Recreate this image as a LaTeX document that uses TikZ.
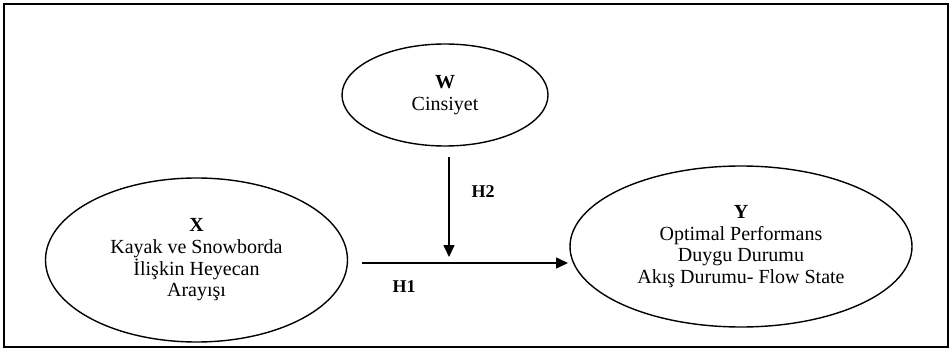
\documentclass[tikz,border=0pt]{standalone}
\usepackage{fontspec}
\setmainfont{Liberation Serif}
\usetikzlibrary{shapes.geometric,arrows.meta}
\begin{document}
\begin{tikzpicture}[x=1pt,y=-1pt,
  every node/.style={font=\fontsize{20}{21.7}\selectfont},
  varnode/.style={ellipse,draw,line width=1.4pt,inner sep=0pt,align=center},
  link/.style={line width=1.6pt,-{Triangle[length=12pt,width=11pt]}},
  hlabel/.style={font=\fontsize{18}{21}\selectfont\bfseries}]
\useasboundingbox (0,0) rectangle (952,358);
\node[draw,line width=1.5pt,minimum width=944pt,minimum height=343pt,inner sep=0pt] (frame) at (476,175.5) {};
\node[varnode,minimum width=206pt,minimum height=102pt] (W) at (445,95) {\textbf{W}\\Cinsiyet};
\node[varnode,minimum width=302pt,minimum height=164pt] (X) at (196.5,260) {\textbf{X}\\Kayak ve Snowborda\\İlişkin Heyecan\\Arayışı};
\node[varnode,minimum width=342pt,minimum height=161pt] (Y) at (741,246.5) {\textbf{Y}\\Optimal Performans\\Duygu Durumu\\Akış Durumu- Flow State};
\coordinate (h1s) at (362,263);
\coordinate (h1e) at (568,263);
\coordinate (h2s) at (449,157);
\coordinate (h2e) at (449,257);
\draw[link] (h1s) -- (h1e);
\draw[link] (h2s) -- (h2e);
\node[hlabel] (H2) at (483,192) {H2};
\node[hlabel] (H1) at (404,287) {H1};
\end{tikzpicture}
\end{document}
